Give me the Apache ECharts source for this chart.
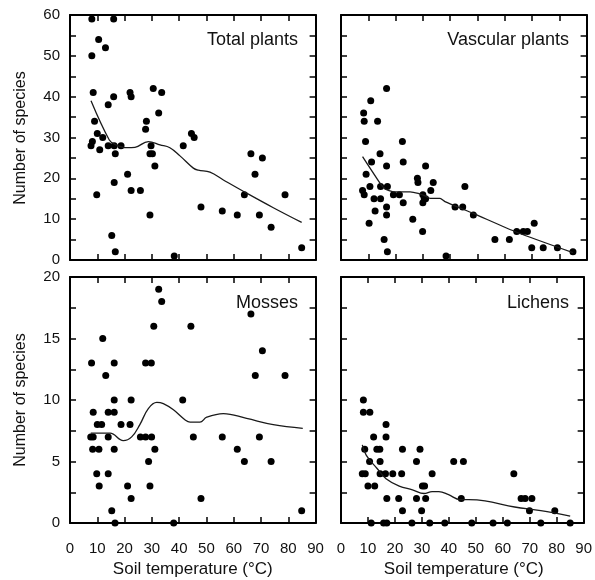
<!DOCTYPE html>
<html>
<head>
<meta charset="utf-8">
<script src="https://cdn.jsdelivr.net/npm/echarts@6/dist/echarts.min.js"></script>
<style>
  html, body { margin: 0; padding: 0; background: #fff; }
  #wrap { position: relative; width: 595px; height: 580px; }
  #myChart { position: absolute; left: 0; top: 0; width: 595px; height: 580px; }
  .lbl { position: absolute; color: #111; font-family: "Liberation Sans", Arial, sans-serif; white-space: nowrap; }
</style>
</head>
<body>
<div id="wrap">
  <div id="myChart"></div>
</div>
<script>
// x = soil temperature (°C), y = number of species
const panelTitles = ['Total plants', 'Vascular plants', 'Mosses', 'Lichens'];
const xName = 'Soil temperature (°C)';
const yName = 'Number of species';
const xTicks = [0, 10, 20, 30, 40, 50, 60, 70, 80, 90];
const topTicks = [0, 10, 20, 30, 40, 50, 60];
const bottomTicks = [0, 5, 10, 15, 20];

const totalPts = [
  [8, 59], [16, 59], [10.5, 54], [13, 52], [8, 50], [8.5, 41], [16, 40], [14, 38], [22, 41], [22.4, 40],
  [30.5, 42], [33.6, 41], [32.5, 36], [28, 34], [27.7, 32], [9, 34], [10, 31], [12, 30], [8.2, 29], [7.7, 28],
  [10.9, 27], [14, 28], [16.2, 28], [18.7, 28], [16.6, 26], [29.7, 28], [29.3, 26], [30.2, 26], [31.1, 23], [41.5, 28],
  [21.1, 21], [16.2, 19], [9.8, 16], [22.4, 17], [25.8, 17], [29.3, 11], [15.3, 6], [16.6, 2], [38.2, 1], [44.5, 31],
  [45.5, 30], [66.3, 26], [70.5, 25], [67.8, 21], [63.9, 16], [78.8, 16], [48, 13], [55.8, 12], [61.3, 11], [69.4, 11],
  [73.7, 8], [84.9, 3]
];
const totalFit = [
  [7.7, 39], [14.4, 29.4], [16.5, 28.3], [20.8, 27.5], [23.8, 27.6], [28.7, 29], [33, 28.2], [36.6, 27.5],
  [40.3, 25.5], [45.2, 22.5], [47, 22], [51.3, 21.5], [56.2, 19.6], [64.1, 16.6], [74.5, 12.8], [84.9, 9.2]
];

const vascPts = [
  [16.7, 42], [10.9, 39], [8.3, 36], [8.5, 34], [13.4, 34], [9, 29], [22.5, 29], [14.3, 26], [11.2, 24], [16.7, 23],
  [22.8, 24], [31, 23], [9.2, 21], [28, 20], [28.2, 19], [33.8, 19], [10.6, 18], [14.5, 18], [17, 18], [7.9, 17],
  [8.5, 16], [19.2, 16], [21.4, 16], [30, 16], [30.5, 15], [31, 15], [30, 14], [32.9, 17], [12.1, 15], [14.5, 15],
  [22.8, 14], [16.7, 13], [12.5, 12], [16.7, 11], [10.3, 9], [26.3, 10], [29.9, 7], [15.8, 5], [17, 2], [45.4, 18],
  [41.8, 13], [44.6, 13], [48.5, 11], [56.4, 5], [61.7, 5], [64.4, 7], [66.8, 7], [68.3, 7], [70.8, 9], [69.9, 3],
  [74.1, 3], [79.3, 3], [38.5, 1], [85, 2]
];
const vascFit = [
  [7.9, 25.3], [14.3, 18.8], [16.1, 17.4], [19.2, 16.7], [25.3, 16.7], [28.3, 16.3], [31.4, 15.5], [32.6, 15.1],
  [36.3, 15.1], [38.1, 14.3], [48.5, 11.4], [64.4, 6.8], [85, 1.8]
];

const mossPts = [
  [32.5, 19], [33.6, 18], [30.7, 16], [12, 15], [7.9, 13], [16.2, 13], [27.7, 13], [29.8, 13], [13.1, 12], [16.2, 10],
  [22.4, 10], [41.3, 10], [8.5, 9], [14, 9], [16.2, 9], [10, 8], [11.6, 8], [18.7, 8], [22, 8], [7.6, 7],
  [8.5, 7], [14, 7], [25.8, 7], [27.7, 7], [29.9, 7], [8.3, 6], [10.6, 6], [16.2, 6], [31.1, 6], [28.8, 5],
  [9.8, 4], [14, 4], [10.7, 3], [21.1, 3], [29.3, 3], [22.4, 2], [15.3, 1], [16.5, 0], [38, 0], [66.3, 17],
  [44.3, 16], [70.5, 14], [67.9, 12], [78.8, 12], [45.2, 7], [55.8, 7], [69.4, 7], [61.3, 6], [63.9, 5], [73.7, 5],
  [48, 2], [84.9, 1]
];
const mossFit = [
  [7.6, 7.3], [14.7, 7.3], [19.5, 6.7], [22.6, 7.0], [25.6, 8.0], [28.7, 9.3], [31.8, 9.8], [34.2, 9.7],
  [37.9, 9.2], [42.1, 8.4], [44, 8.2], [47.6, 8.2], [50.1, 8.6], [56.2, 8.9], [64.7, 8.5], [74.5, 8.0], [85.3, 7.7]
];

const lichenPts = [
  [8.3, 10], [8.3, 9], [10.7, 9], [16.7, 8], [12.1, 7], [16.7, 7], [8.8, 6], [13.3, 6], [14.4, 6], [22.8, 6],
  [29.3, 6], [10.6, 5], [14.5, 5], [28, 5], [7.9, 4], [9, 4], [14.5, 4], [16.5, 4], [19.2, 4], [22.5, 4],
  [33.8, 4], [10, 3], [12.5, 3], [30.2, 3], [31, 3], [17, 2], [21.4, 2], [28, 2], [31.4, 2], [22.8, 1],
  [29.9, 1], [41.8, 5], [45.4, 5], [64.1, 4], [44.6, 2], [66.8, 2], [68.3, 2], [70.8, 2], [69.9, 1], [79.3, 1],
  [11.2, 0], [15.8, 0], [17, 0], [26.3, 0], [32.9, 0], [38.5, 0], [48.5, 0], [56.4, 0], [61.7, 0], [74.1, 0], [85, 0]
];
const lichenFit = [
  [7.9, 6.35], [9.4, 5.5], [13.3, 4.45], [16.7, 3.6], [21.6, 3.0], [26.5, 2.7], [30.8, 2.4], [33.8, 2.55],
  [36.3, 2.55], [39.9, 2.3], [44.2, 1.9], [47.3, 1.9], [53.4, 1.8], [64.4, 1.3], [74.1, 1.0], [85, 0.55]
];

const points = [totalPts, vascPts, mossPts, lichenPts];
const fits = [totalFit, vascFit, mossFit, lichenFit];

const font = 'Liberation Sans, Arial, sans-serif';
const ink = '#111';

const grids = [
  {left: 70, top: 15, width: 245.6, height: 245},
  {left: 341, top: 15, width: 245.6, height: 245},
  {left: 70, top: 277, width: 245.6, height: 246},
  {left: 341, top: 277, width: 245.6, height: 246}
];

const line = () => ({show: true, onZero: false, lineStyle: {color: '#000', width: 2}});
const tick = () => ({show: true, inside: true, length: 6, lineStyle: {color: '#000', width: 1.5}});

let xAxis = [];
let yAxis = [];
grids.forEach((g, i) => {
  const isBottom = i >= 2;
  const isLeft = i % 2 === 0;
  const yTicks = isBottom ? bottomTicks : topTicks;
  const yMax = yTicks[yTicks.length - 1];
  const yStep = isBottom ? 2.5 : 5;
  xAxis.push({
    type: 'value', gridIndex: i, position: 'bottom', min: 0, max: 90, interval: 10,
    axisLine: line(), axisTick: tick(), splitLine: {show: false},
    axisLabel: {show: isBottom, margin: 18, color: ink, fontSize: 15, fontFamily: font}
  });
  xAxis.push({
    type: 'value', gridIndex: i, position: 'top', min: 0, max: 90, interval: 10,
    axisLine: line(), axisTick: tick(), splitLine: {show: false}, axisLabel: {show: false}
  });
  yAxis.push({
    type: 'value', gridIndex: i, position: 'left', min: 0, max: yMax, interval: yStep,
    axisLine: line(), axisTick: tick(), splitLine: {show: false},
    axisLabel: {
      show: isLeft, margin: 10, color: ink, fontSize: 15, fontFamily: font,
      formatter: v => (yTicks.indexOf(v) >= 0 ? String(v) : '')
    }
  });
  yAxis.push({
    type: 'value', gridIndex: i, position: 'right', min: 0, max: yMax, interval: yStep,
    axisLine: line(), axisTick: tick(), splitLine: {show: false}, axisLabel: {show: false}
  });
});

let series = [];
points.forEach((pts, i) => {
  series.push({
    type: 'scatter', xAxisIndex: i * 2, yAxisIndex: i * 2,
    data: pts, symbolSize: 7, itemStyle: {color: '#000', opacity: 1}
  });
  series.push({
    type: 'line', xAxisIndex: i * 2, yAxisIndex: i * 2,
    data: fits[i], showSymbol: false, smooth: i === 1 ? 0.2 : 0.4,
    lineStyle: {color: '#1a1a1a', width: 1.3}
  });
});

const myChart = echarts.init(document.getElementById('myChart'));
myChart.setOption({animation: false, grid: grids, xAxis: xAxis, yAxis: yAxis, series: series});

// panel titles and axis names as page text
const wrap = document.getElementById('wrap');
function addText(text, css) {
  const d = document.createElement('div');
  d.className = 'lbl';
  d.textContent = text;
  Object.assign(d.style, css);
  wrap.appendChild(d);
}
const titleRight = [297, 26, 297, 26];
const titleTop = [30, 30, 293, 293];
panelTitles.forEach((t, i) => addText(t, {
  right: titleRight[i] + 'px', top: titleTop[i] + 'px', fontSize: '18px', lineHeight: '18px'
}));
[192.8, 463.8].forEach(cx => addText(xName, {
  left: (cx - 100) + 'px', top: '560px', width: '200px', textAlign: 'center', fontSize: '17px', lineHeight: '17px'
}));
[137.5, 400].forEach(cy => addText(yName, {
  left: '-80px', top: (cy - 8) + 'px', width: '200px', height: '16px', textAlign: 'center',
  fontSize: '16px', lineHeight: '16px', transform: 'rotate(-90deg)'
}));
</script>
</body>
</html>
